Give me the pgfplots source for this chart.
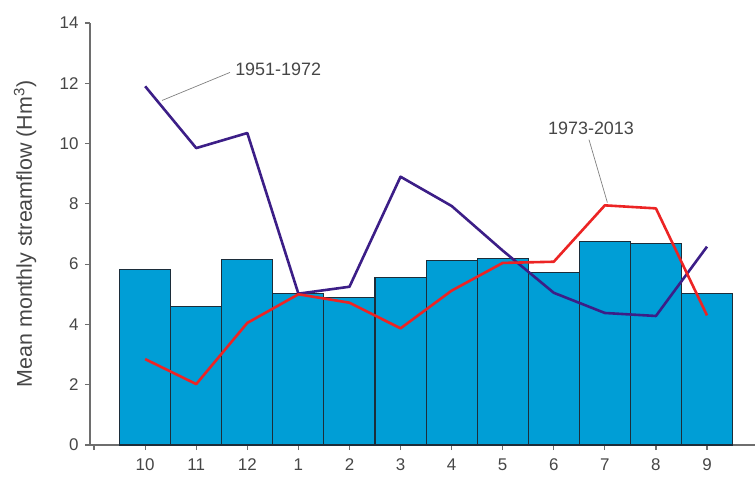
\documentclass[border=0pt]{standalone}
\usepackage{fontspec}
\setmainfont{Liberation Sans}
\usepackage{pgfplots}
\pgfplotsset{compat=1.18}
\definecolor{barblue}{RGB}{0,158,214}
\definecolor{baredge}{RGB}{28,45,58}
\definecolor{purp}{RGB}{60,30,135}
\definecolor{redl}{RGB}{236,36,36}
\definecolor{axgray}{RGB}{110,110,110}
\definecolor{txtgray}{RGB}{70,70,70}
\begin{document}
\begin{tikzpicture}
\useasboundingbox (-90bp,-33bp) rectangle (665bp,445bp);
\begin{axis}[
  at={(0,0)}, anchor=south west,
  scale only axis, width=665bp, height=422bp,
  xmin=-1.08, xmax=11.94, ymin=0, ymax=14,
  axis x line=bottom, axis y line=left,
  axis line style={-, axgray, line width=1.3bp},
  xtick={-1,0,...,11}, xticklabels={{},10,11,12,1,2,3,4,5,6,7,8,9},
  ytick={0,2,...,14},
  tick align=outside, major tick length=5bp,
  tick style={axgray, line width=1.2bp},
  ticklabel style={font=\fontsize{17}{19}\selectfont, text=txtgray},
  xticklabel style={yshift=-5bp},
  yticklabel style={xshift=-3bp},
  /pgf/number format/assume math mode=true,
  ylabel={Mean monthly streamflow (Hm\textsuperscript{3})},
  ylabel style={at={(axis description cs:-0.0977,0.5)}, anchor=center,
    font=\fontsize{21.5}{24}\selectfont, text=txtgray},
  clip=false,
]
\addplot[ybar, bar width=1, fill=barblue, draw=baredge, line width=1.1bp]
  coordinates {(0,5.82) (1,4.6) (2,6.15) (3,5.02) (4,4.9) (5,5.56) (6,6.12) (7,6.2) (8,5.72) (9,6.76) (10,6.67) (11,5.02)};
\addplot[purp, line width=2.6bp, line join=round]
  coordinates {(0,11.9) (1,9.85) (2,10.35) (3,5.02) (4,5.25) (5,8.9) (6,7.93) (7,6.45) (8,5.05) (9,4.38) (10,4.28) (11,6.58)};
\addplot[redl, line width=2.6bp, line join=round]
  coordinates {(0,2.85) (1,2.02) (2,4.05) (3,5.0) (4,4.72) (5,3.87) (6,5.12) (7,6.04) (8,6.08) (9,7.95) (10,7.85) (11,4.3)};
\draw[gray, line width=0.7bp] (axis cs:0.33,11.43) -- (axis cs:1.66,12.36);
\node[anchor=west, font=\fontsize{18}{20}\selectfont, text=txtgray, inner sep=0pt] at (axis cs:1.76,12.45) {1951-1972};
\draw[gray, line width=0.7bp] (axis cs:8.69,10.13) -- (axis cs:9.05,8.04);
\node[anchor=center, font=\fontsize{18}{20}\selectfont, text=txtgray, inner sep=0pt] at (axis cs:8.73,10.52) {1973-2013};
\end{axis}
\end{tikzpicture}
\end{document}
